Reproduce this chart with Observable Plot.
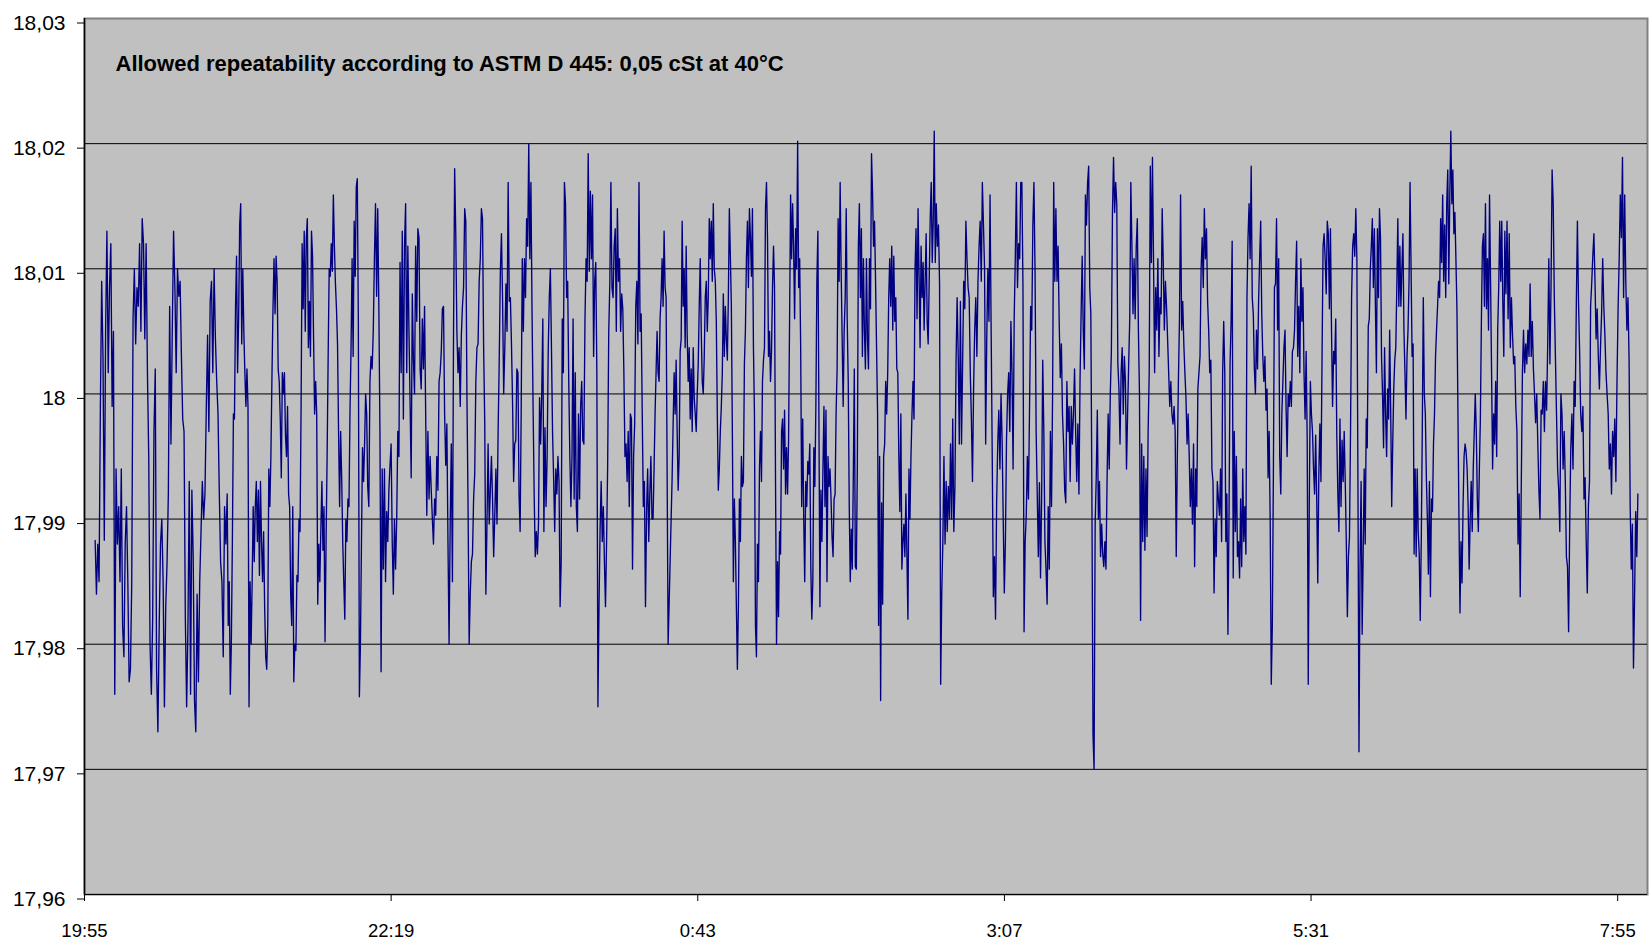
<!DOCTYPE html>
<html>
<head>
<meta charset="utf-8">
<script src="https://cdn.jsdelivr.net/npm/d3@7"></script>
<script src="https://cdn.jsdelivr.net/npm/@observablehq/plot@0.6"></script>
<style>
  html, body { margin: 0; padding: 0; background: #ffffff; }
  #chart { width: 1650px; height: 939px; }
</style>
</head>
<body>
<div id="chart"></div>
<script>
// ---------- chart text and ticks ----------
const title = "Allowed repeatability according to ASTM D 445: 0,05 cSt at 40°C";
const yTicks = [17.96, 17.97, 17.98, 17.99, 18, 18.01, 18.02, 18.03];
const xTickLabels = ["19:55", "22:19", "0:43", "3:07", "5:31", "7:55"];
const xDomain = ["19:55", "8:09"];

// ---------- kinematic viscosity readings (cSt) ----------
// each block covers the time from its start to the next block's start
const segmentStarts = ["20:00", "21:02", "22:08", "23:15", "0:22", "1:28", "2:35", "3:42", "4:48", "5:55", "7:02"];
const segmentEnd = "8:05";

const seg01 = [17.9883, 17.984, 17.988, 17.985, 17.999, 18.009, 18.003, 17.9883, 18.005, 18.013, 18.0017, 18.0085, 18.012, 17.999, 18.005, 17.976, 17.994, 17.988, 17.991, 17.985, 17.994, 17.9815, 17.979, 17.988, 17.991, 17.985, 17.977, 17.978, 17.985, 18.006, 18.01, 18.004, 18.0085, 18.007, 18.012, 18.005, 18.014, 18.012, 18.0044, 18.012, 18.0017, 17.995, 17.98, 17.976, 17.982, 17.997, 18.002, 17.978, 17.973, 17.9815, 17.988, 17.99, 17.985, 17.975, 17.983, 17.9865, 17.992, 18.007, 17.996, 18.005, 18.013, 18.0085, 18.0017, 18.01, 18.0078, 18.009, 18.003, 17.998, 17.997, 17.982, 17.975, 17.9815, 17.993, 17.976, 17.9923, 17.987, 17.9755, 17.973, 17.984, 17.977, 17.985, 17.989, 17.993, 17.99, 17.992, 17.9987, 18.0047, 17.997, 18.0074, 18.009, 18.0017, 18.01, 18.0044, 18.001, 17.9984, 17.992, 17.9865, 17.985, 17.979, 17.991, 17.988];

const seg02 = [17.992, 17.9815, 17.985, 17.976, 17.98, 17.9882, 17.9984, 17.998, 18.0068, 18.011, 18.0017, 18.006, 18.0135, 18.0152, 18.004, 18.01, 18.005, 18.0017, 17.999, 18.002, 17.999, 17.975, 17.985, 17.98, 17.985, 17.991, 17.9866, 17.991, 17.993, 17.9882, 17.9923, 17.9855, 17.993, 17.9882, 17.985, 17.989, 17.983, 17.979, 17.978, 17.9815, 17.994, 17.991, 17.995, 18.0013, 18.0068, 18.0108, 18.0064, 18.011, 18.009, 18.002, 18.001, 17.998, 17.9933, 18.0017, 18, 18.0017, 17.9967, 17.995, 17.999, 17.992, 17.991, 17.984, 17.9815, 17.991, 17.977, 17.98, 17.9795, 17.9855, 17.985, 17.99, 17.989, 17.999, 18.012, 18.0068, 18.013, 18.005, 18.0125, 18.014, 18.0037, 18.0074, 18.003, 18.013, 18.011, 18.0044, 17.9984, 18.001, 17.9984, 17.9832, 17.988, 17.985, 17.9892, 17.993, 17.9875, 17.991, 17.9802, 17.9882, 17.995, 18.003, 18.01, 18.0094, 18.012, 18.0098, 18.0159, 18.0118, 18.0088, 18.0068, 18.004, 17.997, 17.991, 17.997, 17.9933, 17.9882, 17.985, 17.982, 17.99, 17.9882, 17.9916, 17.991, 17.9987, 18.0037, 18.0108, 18.003, 18.0138, 18.0094, 18.0165, 18.0172, 18.0058, 17.9758, 17.98, 17.9882, 17.9957, 17.993, 17.996, 18, 17.9984];

const seg03 = [17.9926, 17.991, 18.001, 18.003, 18.002, 18.0051, 18.0108, 18.0152, 18.0078, 18.0148, 18.0068, 17.9967, 17.9778, 17.994, 17.986, 17.994, 17.985, 17.9906, 17.9882, 17.9923, 17.9943, 17.996, 17.9882, 17.984, 17.99, 17.986, 17.99, 17.997, 17.995, 18.0105, 18.0017, 18.013, 17.998, 18.0118, 18.0152, 18.0017, 18.0118, 18.0051, 17.9994, 17.9933, 18.008, 18.0027, 18, 18.0118, 18.0058, 18.0132, 18.0125, 18.002, 18.0004, 18.006, 18.002, 18.007, 17.9984, 17.9903, 17.997, 17.9916, 17.995, 17.9923, 17.99, 17.988, 17.9916, 17.9903, 17.995, 17.9923, 18.001, 18.0017, 18.0034, 18.0068, 18.007, 17.9984, 17.9943, 17.9976, 17.9882, 17.98, 17.9896, 17.996, 17.985, 18.0051, 18.018, 18.0128, 18.005, 18.0017, 18.0037, 17.999, 18.0047, 18.007, 18.0085, 18.0148, 18.0138, 18, 17.9913, 17.98, 17.984, 17.9866, 17.9872, 17.9916, 17.9936, 18.001, 18.0037, 18.004, 18.009, 18.0108, 18.0148, 18.014, 18.0037, 17.9977, 17.984, 17.9896, 17.996, 17.9896, 17.9923, 17.995, 17.9916, 17.987, 17.9903, 17.994, 17.9896, 17.997, 18.0027, 18.0098, 18.0128, 18.0074, 18, 18.0037, 18.0088, 18.005, 18.0169, 18.0074];

const seg04 = [18.0077, 18.004, 17.9994, 17.993, 17.996, 17.9963, 18.002, 18.0017, 17.992, 17.989, 17.9987, 18.0108, 18.005, 18.0108, 18.0077, 18.014, 18.0118, 18.02, 18.0108, 18.0169, 18.0068, 17.999, 17.992, 17.987, 17.989, 17.9872, 17.9896, 17.9997, 17.996, 18, 18.006, 17.989, 17.9973, 17.991, 17.995, 18.0034, 18.0077, 18.01, 18.0037, 17.997, 17.9933, 17.989, 17.994, 17.992, 17.995, 17.993, 17.983, 17.9866, 18.006, 18.0017, 18.0169, 18.0152, 18.0077, 18.009, 18.001, 17.995, 17.991, 17.995, 18.006, 17.9916, 18.0017, 17.991, 17.989, 17.9984, 17.9916, 17.999, 18.001, 17.9963, 17.996, 18.0058, 18.0108, 18.009, 18.0192, 18.0098, 18.0162, 18.0108, 18.0159, 18.003, 18.009, 18.0105, 18.0017, 17.975, 17.983, 17.9892, 17.993, 17.9882, 17.991, 17.9866, 17.983, 17.9882, 17.9943, 18.005, 18.0088, 18.0169, 18.0085, 18.0077, 18.0118, 18.0132, 18.005, 18.0148, 18.009, 18.0108, 18.005, 18.008, 18.0068, 18.0017, 17.995, 17.996, 17.993, 17.997, 17.991, 17.9984, 17.998, 17.986, 17.995, 17.9976, 18.007, 18.009, 18.004, 18.0169, 18.005, 18.0064, 17.9984, 17.991, 17.993, 17.983, 17.9906, 17.994, 17.9882, 17.992, 17.995, 17.99];

const seg05 = [17.99, 17.994, 17.9984, 18.0017, 18.005, 18.0017, 18.001, 18.006, 18.0077, 18.0108, 18.007, 18.013, 18.0085, 18.0077, 17.994, 17.98, 17.9832, 17.9866, 17.99, 17.9933, 17.9976, 18.0017, 17.9984, 18.0027, 17.997, 17.9923, 17.995, 18.0034, 18.0044, 18.0138, 18.007, 18.01, 18.0037, 18.0118, 18.0047, 18.001, 18.0037, 17.998, 18.002, 17.997, 18.0037, 17.9997, 17.9984, 17.997, 18, 18.0024, 18.007, 18.0108, 18.005, 18.001, 18, 18.003, 18.0077, 18.009, 18.005, 18.0077, 18.014, 18.0108, 18.0138, 18.009, 18.0152, 18.01, 18.009, 18.0058, 17.9984, 17.9923, 17.994, 17.997, 17.999, 18.0017, 18.008, 18.003, 18.007, 18.0044, 18.0027, 18.0077, 18.0148, 18.011, 18.007, 17.997, 17.985, 17.9916, 17.9882, 17.983, 17.978, 17.983, 17.9916, 17.9882, 17.995, 17.9926, 17.993, 18.0024, 18.0051, 18.0108, 18.0138, 18.0085, 18.0148, 18.0125, 18.0094, 18.0148, 18.0037, 17.9984, 17.9815, 17.979, 17.988, 17.985, 17.994, 17.997, 17.993, 18.001, 18.0027, 18.0037, 18.0148, 18.0169, 18.0125, 18.003, 18.005, 18.001, 18.0034, 18.0085, 18.0118, 18.0085, 17.993, 17.98, 17.9866, 17.9822, 17.989, 17.9872, 17.997, 17.998, 17.994, 17.9987, 17.992, 17.9957, 17.992, 17.9963, 18.006, 18.0159, 18.0108, 18.0152];

const seg06 = [18.0118, 18.006, 18.0132, 18.01, 18.0202, 18.0085, 18.0108, 18.0037, 17.991, 17.998, 17.99, 17.985, 17.993, 17.991, 17.9946, 17.9936, 17.996, 17.9862, 17.982, 17.985, 17.9957, 17.9926, 17.999, 18.009, 18.013, 17.9984, 17.983, 17.9923, 17.9882, 17.994, 17.999, 17.991, 17.9987, 17.985, 17.995, 17.9926, 17.994, 17.9916, 17.9886, 17.987, 17.9916, 17.992, 17.9984, 18.002, 18.014, 18.009, 18.0169, 18.0098, 18.0044, 17.999, 18.0051, 18.0077, 18.0148, 18.0058, 18.001, 17.991, 17.985, 17.9892, 17.986, 17.9933, 18.002, 17.9862, 17.986, 17.9943, 18.0118, 18.0152, 18.0077, 18.0132, 18.003, 18.0108, 18.005, 18.002, 18.0108, 18.0044, 18.002, 18.0108, 18.0068, 18.0192, 18.0162, 18.0118, 18.0138, 18.009, 18.0037, 17.9984, 17.9815, 17.995, 17.9755, 17.9913, 17.9832, 17.995, 17.996, 18.001, 17.9984, 18.0017, 18.0077, 18.0108, 18.007, 18.0118, 18.0051, 18.011, 18.0058, 18.0077, 18.002, 18.0017, 17.995, 17.9906, 17.9984, 17.986, 17.9882, 17.9896, 17.987, 17.992, 17.987, 17.982, 17.994, 17.99, 17.995, 17.9984, 18.001, 17.998, 18.01, 18.0132, 18.006, 18.0148, 18.0094, 18.0037, 18.0118, 18.0077, 18.0105, 18.0051, 18.009, 18.0128, 18.0058, 18.004, 18.009, 18.014, 18.0169, 18.0105, 18.0138, 18.021, 18.0105];

const seg07 = [18.0152, 18.0118, 18.0135, 18.0088, 17.9768, 17.984, 17.9882, 17.995, 17.988, 17.993, 17.989, 17.9926, 17.99, 17.996, 17.99, 17.998, 17.989, 17.9926, 18.0024, 18.0077, 18.003, 17.996, 18.0074, 17.996, 18.0024, 18.009, 18.0068, 18.0138, 18.0108, 18.0085, 18.0077, 18.0017, 17.998, 17.993, 18.0004, 18.0051, 18.0077, 18.003, 18.009, 18.0118, 18.0138, 18.009, 18.0169, 18.0135, 18.01, 17.996, 18.0044, 18.01, 18.0058, 18.0159, 18.0051, 17.995, 17.9838, 17.987, 17.982, 17.9913, 17.996, 17.9987, 17.994, 18, 17.9963, 17.99, 17.9841, 17.9882, 17.9963, 18, 18.0017, 17.997, 18.0058, 18.0017, 17.994, 18.006, 18.0108, 18.0169, 18.0085, 18.012, 18.0108, 18.0169, 18.0169, 18.0085, 17.981, 17.9882, 17.9903, 17.995, 17.9916, 17.999, 18.007, 18.0051, 18.0135, 18.0169, 18.0098, 17.997, 17.992, 17.987, 17.9929, 17.9853, 17.9916, 18.0027, 17.997, 17.9882, 17.986, 17.9832, 17.991, 17.986, 17.997, 17.991, 18, 18.0169, 18.009, 18.0148, 18.009, 18.0118, 18.0058, 18.0013, 18.004, 17.9984, 17.996, 17.9923, 17.9913, 18.001, 17.997, 17.999, 17.993, 17.999, 17.996, 17.9984, 18.002, 17.997, 17.993, 17.9976];

const seg08 = [17.992, 18.001, 18.0064, 18.011, 18.0051, 18.002, 18.0159, 18.0135, 18.0169, 18.0182, 18.0085, 18.0064, 17.9916, 17.9728, 17.97, 17.9896, 17.9933, 17.9987, 17.99, 17.993, 17.987, 17.9896, 17.9872, 17.9862, 17.9882, 17.986, 17.993, 17.9984, 17.994, 18, 18.0034, 18.0145, 18.0189, 18.0145, 18.0169, 18.0152, 18.0024, 18.0004, 17.996, 18.0017, 18.0037, 17.9984, 18.003, 18.001, 17.994, 17.9984, 18.0024, 18.006, 18.0169, 18.0118, 18.0064, 18.0108, 18.006, 18.0118, 18.014, 18.0051, 18, 17.9819, 17.996, 17.9882, 17.995, 17.9875, 17.994, 17.9886, 17.997, 18.0017, 18.0182, 18.0105, 18.0189, 18.0105, 18.0017, 18.0085, 18.0051, 18.0108, 18.003, 18.0077, 18.0064, 18.0148, 18.0105, 18.0051, 18.009, 18.007, 18.0044, 18.0017, 17.999, 18.001, 17.9984, 17.9976, 17.999, 17.997, 17.987, 17.995, 18.001, 18.006, 18.0159, 18.0051, 18.0074, 18.004, 18.0017, 17.9997, 17.996, 17.9984, 17.995, 17.991, 17.994, 17.9896, 17.996, 17.9862, 17.994, 17.991, 18.0004, 18.0017, 18.003, 18.01, 18.0125, 18.0085, 18.0148, 18.0108, 18.0132, 18.0074, 18.0051, 18.0017, 18.0027, 17.994, 17.993, 17.9841, 17.99, 17.987, 17.993, 17.9916];

const seg09 = [17.9903, 17.994, 17.9882, 18.0017, 18.0058, 18.0017, 17.9882, 17.992, 17.9808, 17.99, 18.0024, 18.0058, 18.0122, 17.9853, 17.997, 17.989, 17.995, 17.987, 17.9882, 17.9853, 17.9916, 17.9862, 17.994, 17.9882, 17.991, 17.9872, 18.0077, 18.0125, 18.0152, 18.0108, 18.0182, 18.0077, 18.0064, 18.002, 18, 18.0051, 18.002, 18.0074, 18.0108, 18.0138, 18.0064, 18.003, 18.001, 18.003, 17.9987, 18.0004, 17.9933, 17.997, 17.9896, 17.9768, 17.9815, 17.9936, 18.0085, 18.0088, 18.014, 18.0051, 18.0108, 17.995, 17.992, 17.9984, 18.001, 18.0037, 18.0051, 17.999, 17.995, 18, 17.999, 18.001, 17.999, 18.0034, 18.0037, 18.0051, 18.009, 18.0122, 18.003, 18.007, 18.0017, 18.0108, 18.0058, 18.0085, 18.0017, 17.998, 18.0034, 17.9963, 17.9768, 17.9916, 18.001, 17.9984, 17.997, 17.994, 17.992, 17.9967, 17.9916, 17.9849, 17.9936, 17.9976, 17.993, 18.0024, 18.0118, 18.0128, 18.0108, 18.008, 18.0138, 18.0128, 18.0068, 18.0132, 18.0051, 17.999, 18.0034, 18.0024, 18.006, 17.9967, 17.992, 17.989, 17.998, 17.991, 17.9963, 17.993, 17.997, 17.993, 17.9882, 17.9822, 17.987, 17.9886, 17.997, 18.0077, 18.0118, 18.0128, 18.011, 18.0148, 18.0108, 17.9933, 17.9714, 17.9862, 17.993];

const seg10 = [17.9808, 17.9872, 17.994, 17.988, 17.998, 17.9957, 18.0054, 18.006, 18.01, 18.0118, 18.014, 18.0085, 18.0132, 18.007, 18.0017, 18.0132, 18.0077, 18.0148, 18.0125, 18.003, 18, 17.9957, 18.0037, 17.9984, 17.995, 18.0004, 17.998, 18.0051, 17.9987, 17.991, 17.996, 18.0004, 18.0027, 18.0037, 18.0085, 18.014, 18.007, 18.0118, 18.007, 18.01, 18.0128, 18.0051, 18.0017, 17.998, 18.003, 18.0051, 18.009, 18.0169, 18.01, 18.003, 18.004, 17.9872, 17.994, 17.987, 17.994, 17.989, 17.9872, 17.9819, 17.9882, 17.997, 18.0077, 18, 17.9984, 17.9933, 17.99, 17.9856, 17.993, 17.9838, 17.9916, 17.9906, 17.996, 17.9984, 18.003, 18.0051, 18.007, 18.009, 18.0077, 18.014, 18.0105, 18.0159, 18.009, 18.0135, 18.0077, 18.0152, 18.0179, 18.0088, 18.0159, 18.021, 18.0152, 18.0179, 18.0128, 18.0145, 18.0108, 18.0068, 17.9984, 17.99, 17.9825, 17.9882, 17.9849, 17.991, 17.995, 17.996, 17.9954, 17.994, 17.991, 17.986, 17.99, 17.993, 17.989, 17.994, 17.997, 18, 17.997, 17.9916, 17.989, 17.994, 17.998, 18.0058, 18.0118, 18.0128, 18.007, 18.0152, 18.0068, 18.0108, 18.0051, 18.0159, 18.009, 18.0017, 17.994, 17.9984, 17.996, 18.001, 17.995, 18.0051, 18.0085, 18.0138, 18.009, 18.0138, 18.0074, 18.003];

const seg11 = [18.013, 18.008, 18.0138, 18.006, 18.0128, 18.0037, 18.0077, 18.0047, 18.0024, 18.003, 17.999, 17.997, 17.988, 17.992, 17.9838, 17.993, 18.0017, 18.0051, 18.0017, 18.004, 18.0024, 18.0051, 18.003, 18.0088, 18.003, 18.0058, 18.002, 18, 17.9977, 18, 17.996, 17.9923, 17.99, 17.9987, 17.9984, 18.001, 17.997, 18.001, 17.9987, 18.004, 18.0108, 18.0024, 18.0085, 18.0179, 18.0152, 18.0077, 18.003, 17.9984, 17.994, 17.9923, 17.989, 18, 17.9984, 17.994, 17.997, 17.993, 17.987, 17.9862, 17.981, 17.9896, 17.9957, 17.9984, 17.994, 18.001, 17.999, 18.007, 18.0138, 18.0074, 18.0034, 17.9984, 17.997, 17.999, 17.9916, 17.9933, 17.9882, 17.9841, 17.991, 17.993, 18.007, 18.0088, 18.011, 18.0128, 18.009, 18.0044, 18.0068, 18.003, 18.0004, 18.0037, 18.0064, 18.0108, 18.007, 18.0047, 18.0017, 18, 17.9984, 17.994, 17.996, 17.992, 17.997, 17.995, 17.998, 17.993, 18.001, 18.0068, 18.0108, 18.0159, 18.0125, 18.0189, 18.0077, 18.0159, 18.009, 18.0051, 18.0077, 18.0027, 17.991, 17.986, 17.9896, 17.9781, 17.9838, 17.9906, 17.987, 17.992];

const segments = [seg01, seg02, seg03, seg04, seg05, seg06, seg07, seg08, seg09, seg10, seg11];

// ---------- helpers ----------
// clock time -> Date (evening belongs to day 1, morning to day 2)
function clock(hm) {
  const [h, m] = hm.split(":").map(Number);
  return new Date(Date.UTC(2000, 0, h < 12 ? 2 : 1, h, m));
}
const fmtClock = d => `${d.getUTCHours()}:${String(d.getUTCMinutes()).padStart(2, "0")}`;
const fmtComma = v => String(v).replace(".", ",");

// readings spread evenly over each block's time span
const data = [];
segments.forEach((seg, k) => {
  const t0 = +clock(segmentStarts[k]);
  const t1 = +clock(k + 1 < segmentStarts.length ? segmentStarts[k + 1] : segmentEnd);
  seg.forEach((v, i) => data.push({time: new Date(t0 + (t1 - t0) * i / seg.length), value: v}));
});

const chart = Plot.plot({
  width: 1650,
  height: 939,
  marginLeft: 84,
  marginRight: 3,
  marginTop: 18,
  marginBottom: 45,
  style: {fontFamily: "'Liberation Sans', Arial, sans-serif", fontSize: "21px", background: "#ffffff", color: "#000000", overflow: "visible"},
  x: {type: "utc", domain: xDomain.map(clock), label: null},
  y: {domain: [yTicks[0], yTicks[yTicks.length - 1]], label: null},
  marks: [
    Plot.frame({fill: "#C0C0C0", stroke: "#808080", strokeWidth: 2}),
    Plot.ruleY(yTicks.slice(0, -1), {stroke: "#000000", strokeWidth: 1}),
    Plot.ruleX([clock(xDomain[0])], {stroke: "#000000", strokeWidth: 1.5}),
    Plot.lineY(data, {x: "time", y: "value", stroke: "#000080", strokeWidth: 1.35, curve: "linear"}),
    Plot.axisY({ticks: yTicks, tickFormat: fmtComma, tickSize: 7, tickPadding: 12, fontSize: 21, dy: 4.5, stroke: "#000000", label: null}),
    Plot.axisX({ticks: xTickLabels.map(clock), tickFormat: fmtClock, tickSize: 7, tickPadding: 22, fontSize: 18.5, stroke: "#000000", label: null}),
    Plot.text([title], {frameAnchor: "top-left", dx: 31, dy: 36.5, fontWeight: "bold", fontSize: 22, fill: "#000000"})
  ]
});
document.getElementById("chart").appendChild(chart);
</script>
</body>
</html>
